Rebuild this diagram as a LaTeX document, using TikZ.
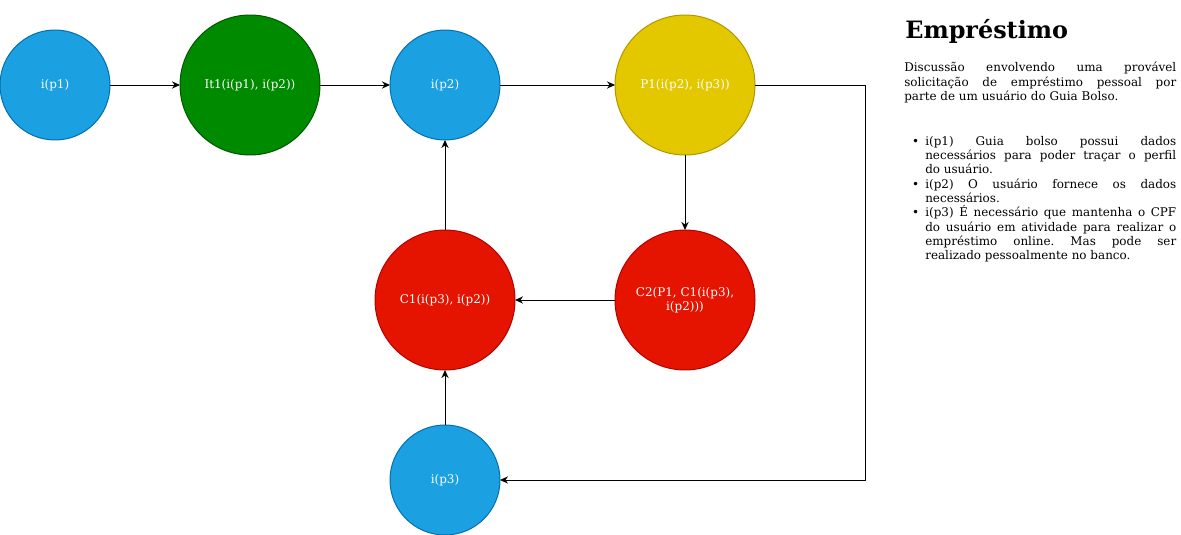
\documentclass[tikz,border=0pt]{standalone}
\usepackage{fontspec}
\setmainfont{DejaVu Serif}
\usetikzlibrary{arrows.meta,positioning}

\definecolor{blueFill}{HTML}{1BA1E2}
\definecolor{blueLine}{HTML}{006EAF}
\definecolor{greenFill}{HTML}{008A00}
\definecolor{greenLine}{HTML}{005700}
\definecolor{yellowFill}{HTML}{E3C800}
\definecolor{yellowLine}{HTML}{B09500}
\definecolor{redFill}{HTML}{E51400}
\definecolor{redLine}{HTML}{B20000}

\begin{document}
\begin{tikzpicture}[
  every node/.style={font=\fontsize{8.5}{10.2}\selectfont},
  state/.style={circle, draw, line width=0.7pt, inner sep=0pt, outer sep=0pt, text=white, align=center},
  small/.style={state, minimum size=2.75cm, fill=blueFill, draw=blueLine},
  big/.style={state, minimum size=3.5cm},
  arrow/.style={-{Stealth[length=0.2cm,width=0.18cm]}, line width=0.7pt},
  panel/.style={anchor=north west, text width=6.8cm, align=justify, inner sep=0pt,
    execute at begin node={\frenchspacing\hyphenpenalty=10000\exhyphenpenalty=10000}}
]
\useasboundingbox (0,0) rectangle (29.525,-13.375);

\node[small] (p1) at (1.375,-2.125) {i(p1)};
\node[big, fill=greenFill, draw=greenLine, right=1.75cm of p1] (it1) {It1(i(p1), i(p2))};
\node[small, right=1.75cm of it1] (p2) {i(p2)};
\node[big, fill=yellowFill, draw=yellowLine, right=2.875cm of p2] (pp1) {P1(i(p2), i(p3))};
\node[big, fill=redFill, draw=redLine, below=1.875cm of pp1] (c2) {C2(P1, C1(i(p3),\\i(p2)))};
\node[big, fill=redFill, draw=redLine, left=2.5cm of c2] (c1) {C1(i(p3), i(p2))};
\node[small, below=1.375cm of c1] (p3) {i(p3)};

\draw[arrow] (p1) -- (it1);
\draw[arrow] (it1) -- (p2);
\draw[arrow] (p2) -- (pp1);
\draw[arrow] (pp1) -- (c2);
\draw[arrow] (c2) -- (c1);
\draw[arrow] (c1) -- (p2);
\draw[arrow] (p3) -- (c1);
\draw[arrow] (pp1.east) -- ++(2.75,0) |- (p3.east);

% text panel
\node[anchor=west, inner sep=0pt, font=\fontsize{17}{20}\selectfont\bfseries] (title) at (22.625,-0.78) {Empréstimo};
\node[panel] (intro) at (22.6,-1.55)
  {Discussão envolvendo uma provável solicitação de empréstimo pessoal por parte de um usuário do Guia Bolso.};
\node[panel] (notes) at (22.6,-2.98)
  {\setlength{\leftmargini}{0.525cm}\setlength{\labelsep}{0.15cm}%
   \setlength{\topsep}{0pt}\setlength{\partopsep}{0pt}%
   \begin{itemize}\setlength{\itemsep}{0pt}\setlength{\parsep}{0pt}\setlength{\parskip}{0pt}
   \item i(p1) Guia bolso possui dados\linebreak necessários para poder traçar o perfil\linebreak do usuário.
   \item i(p2) O usuário fornece os dados necessários.
   \item i(p3) É necessário que mantenha o CPF\linebreak do usuário em atividade para realizar o\linebreak empréstimo online. Mas pode ser\linebreak realizado pessoalmente no banco.
   \end{itemize}};
\end{tikzpicture}
\end{document}
